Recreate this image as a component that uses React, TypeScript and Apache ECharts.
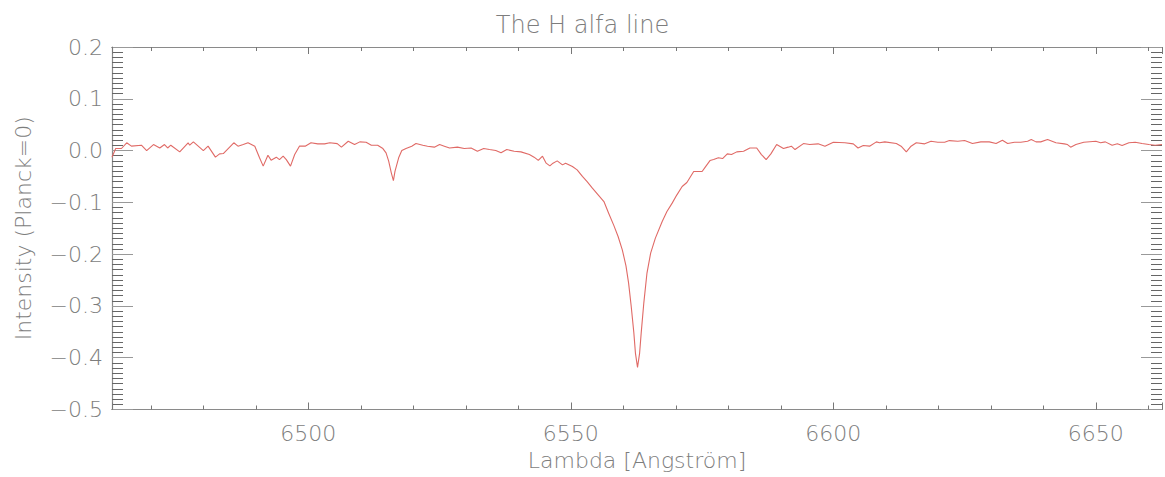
import React, { useEffect, useRef } from "react";
import * as echarts from "echarts";

const wavelengths: number[] = [
  6462.6, 6463.3, 6464.4, 6465.4, 6466.3, 6468.2, 6469.2, 6470.5, 6471.7, 6472.6,
  6473.2, 6473.8, 6475.5, 6477.1, 6477.4, 6478.1, 6480.0, 6480.9, 6482.3, 6483.1,
  6483.8, 6485.8, 6486.6, 6487.6, 6488.5, 6489.8, 6490.7, 6491.4, 6492.3, 6492.9,
  6493.9, 6494.5, 6495.2, 6495.8, 6496.6, 6497.4, 6498.3, 6499.4, 6500.5, 6501.8,
  6503.1, 6504.1, 6505.5, 6506.3, 6507.6, 6508.8, 6509.8, 6511.0, 6512.0, 6513.2,
  6514.2, 6514.8, 6515.3, 6515.8, 6516.2, 6516.5, 6517.2, 6517.8, 6518.6, 6519.7,
  6520.5, 6521.8, 6522.7, 6524.0, 6525.0, 6525.9, 6526.9, 6528.4, 6529.7, 6531.0,
  6532.2, 6533.4, 6534.5, 6535.7, 6536.7, 6537.8, 6539.2, 6540.5, 6542.1, 6543.0,
  6543.8, 6544.6, 6545.3, 6546.0, 6546.6, 6547.4, 6548.4, 6549.0, 6550.3, 6551.2,
  6552.2, 6553.1, 6554.1, 6555.2, 6556.3, 6557.2, 6558.2, 6559.0, 6559.8, 6560.5,
  6561.0, 6561.5, 6562.0, 6562.3, 6562.7, 6563.1, 6563.4, 6563.9, 6564.5, 6565.2,
  6566.1, 6567.4, 6568.3, 6569.3, 6570.2, 6571.2, 6572.1, 6573.4, 6575.0, 6575.6,
  6576.5, 6577.2, 6578.1, 6578.9, 6579.8, 6580.6, 6581.6, 6582.9, 6584.1, 6585.4,
  6586.3, 6587.2, 6588.1, 6589.2, 6590.5, 6591.4, 6592.0, 6592.7, 6594.3, 6595.5,
  6597.1, 6598.4, 6600.0, 6602.2, 6603.8, 6604.7, 6605.7, 6606.9, 6608.2, 6608.8,
  6609.8, 6612.0, 6612.9, 6613.9, 6614.8, 6615.8, 6617.4, 6618.6, 6619.9, 6621.2,
  6622.1, 6623.7, 6625.0, 6626.5, 6628.1, 6629.7, 6631.0, 6632.2, 6633.2, 6634.5,
  6635.7, 6637.0, 6637.7, 6638.6, 6639.5, 6640.8, 6642.4, 6644.0, 6644.6, 6645.2,
  6646.2, 6647.7, 6650.0, 6650.9, 6651.8, 6653.1, 6654.1, 6655.0, 6656.3, 6657.5,
  6658.8, 6660.1, 6661.3, 6662.6,
];

const intensities: number[] = [
  -0.013, 0.004, 0.004, 0.015, 0.0085, 0.0104, 0.0, 0.0116, 0.005, 0.0116,
  0.005, 0.0104, -0.0025, 0.015, 0.0104, 0.0168, 0.0, 0.0085, -0.0127, -0.0064,
  -0.0058, 0.015, 0.0085, 0.0116, 0.015, 0.0085, -0.014, -0.03, -0.009, -0.0185,
  -0.0127, -0.0174, -0.0108, -0.0174, -0.03, -0.0077, 0.0085, 0.0085, 0.015, 0.013,
  0.013, 0.015, 0.0135, 0.0066, 0.018, 0.0116, 0.0168, 0.0162, 0.0104, 0.0104,
  0.0039, -0.0044, -0.0205, -0.043, -0.058, -0.04, -0.014, 0.0, 0.004, 0.0085,
  0.0135, 0.0104, 0.0085, 0.0066, 0.0116, 0.0085, 0.005, 0.0066, 0.004, 0.005,
  -0.0013, 0.004, 0.002, 0.0, -0.0044, 0.002, -0.0013, -0.0025, -0.0077, -0.0127,
  -0.019, -0.0108, -0.0243, -0.0295, -0.0243, -0.0199, -0.0276, -0.0243, -0.0309, -0.0372,
  -0.05, -0.06, -0.0726, -0.0855, -0.0984, -0.121, -0.145, -0.166, -0.1916, -0.2225,
  -0.256, -0.301, -0.352, -0.391, -0.4187, -0.391, -0.352, -0.294, -0.2365, -0.198,
  -0.169, -0.137, -0.1177, -0.1015, -0.0855, -0.0694, -0.0617, -0.0405, -0.0405, -0.032,
  -0.0193, -0.0174, -0.014, -0.0154, -0.0064, -0.0077, -0.0025, -0.0013, 0.005, 0.005,
  -0.0077, -0.0174, -0.0064, 0.0116, 0.004, 0.0066, 0.0085, 0.002, 0.0135, 0.0116,
  0.013, 0.0085, 0.0162, 0.015, 0.013, 0.005, 0.0097, 0.0085, 0.0168, 0.015,
  0.0168, 0.0135, 0.0085, -0.0025, 0.0085, 0.015, 0.013, 0.018, 0.016, 0.0162,
  0.0193, 0.018, 0.0193, 0.0135, 0.0168, 0.0168, 0.0135, 0.02, 0.0135, 0.0162,
  0.0162, 0.018, 0.0212, 0.0168, 0.0168, 0.0212, 0.015, 0.013, 0.0116, 0.0066,
  0.0116, 0.0162, 0.018, 0.015, 0.0168, 0.0104, 0.013, 0.0097, 0.015, 0.0162,
  0.0135, 0.0116, 0.0104, 0.0116,
];

const xMin = 6462.6;
const xMax = 6662.6;
const yMin = -0.5;
const yMax = 0.2;
const yStep = 0.1;

const TITLE = "The H alfa line";
const X_NAME = "Lambda [Angstr\u00f6m]";
const Y_NAME = "Intensity (Planck=0)";

const AXIS_COLOR = "#8a8a8a";
const TEXT_COLOR = "#7d7d7d";
const LINE_COLOR = "#e06a66";
const FONT = "'DejaVu Sans', sans-serif";
const WEIGHT = 200;

export default function App() {
  const ref = useRef<HTMLDivElement>(null);

  useEffect(() => {
    if (!ref.current) return;
    const chart = echarts.init(ref.current, null, { renderer: "svg" });

    const xBase = (pos: "top" | "bottom", major: boolean, labels: boolean) => ({
      type: "value",
      position: pos,
      min: xMin,
      max: xMax,
      splitNumber: major ? 4 : 20,
      axisLine: { show: true, onZero: false, lineStyle: { color: AXIS_COLOR, width: 1.2 } },
      axisTick: { show: true, inside: true, length: major ? 7 : 4, lineStyle: { color: "#777" } },
      axisLabel: {
        show: labels,
        margin: 13,
        color: TEXT_COLOR,
        fontFamily: FONT,
        fontWeight: WEIGHT,
        fontSize: 22,
        formatter: (v: number) => (Math.abs(v % 50) < 1e-6 ? String(Math.round(v)) : ""),
      },
      splitLine: { show: false },
      ...(labels
        ? {
            name: X_NAME,
            nameLocation: "middle",
            nameGap: 40,
            nameTextStyle: { color: TEXT_COLOR, fontFamily: FONT, fontWeight: WEIGHT, fontSize: 22 },
          }
        : {}),
    });

    const yBase = (pos: "left" | "right", labels: boolean) => ({
      type: "value",
      position: pos,
      min: yMin,
      max: yMax,
      interval: yStep,
      axisLine: { show: labels, onZero: false, lineStyle: { color: AXIS_COLOR, width: 1.2 } },
      axisTick: { show: true, inside: true, length: 21, lineStyle: { color: "#999" } },
      minorTick: { show: true, splitNumber: 10, length: 11, lineStyle: { color: "#666" } },
      axisLabel: {
        show: labels,
        margin: 9,
        color: TEXT_COLOR,
        fontFamily: FONT,
        fontWeight: WEIGHT,
        fontSize: 22,
        formatter: (v: number) => {
          if (Math.abs(v) < 1e-9) return "0.0";
          const s = Math.abs(v).toFixed(1);
          return v < 0 ? "\u2212" + s : s;
        },
      },
      splitLine: { show: false },
      minorSplitLine: { show: false },
      ...(labels
        ? {
            name: Y_NAME,
            nameLocation: "middle",
            nameGap: 78,
            nameTextStyle: { color: TEXT_COLOR, fontFamily: FONT, fontWeight: WEIGHT, fontSize: 22 },
          }
        : {}),
    });

    const data = wavelengths.map((w, i) => [w, intensities[i]]);

    chart.setOption({
      animation: false,
      backgroundColor: "#ffffff",
      title: {
        text: TITLE,
        left: "center",
        top: 8,
        textStyle: { color: TEXT_COLOR, fontFamily: FONT, fontWeight: WEIGHT, fontSize: 24 },
      },
      grid: { left: 112, top: 47, right: 0, bottom: 67.5, containLabel: false },
      xAxis: [
        xBase("bottom", false, false),
        xBase("bottom", true, true),
        xBase("top", false, false),
        xBase("top", true, false),
      ],
      yAxis: [yBase("left", true), yBase("right", false)],
      series: [
        {
          type: "line",
          xAxisIndex: 0,
          yAxisIndex: 0,
          data,
          showSymbol: false,
          symbol: "none",
          smooth: false,
          lineStyle: { color: LINE_COLOR, width: 1.1 },
          clip: true,
        },
      ],
    });

    return () => chart.dispose();
  }, []);

  return (
    <div
      ref={ref}
      style={{ position: "fixed", left: 0, top: 0, width: 1165, height: 477, background: "#fff" }}
    />
  );
}
